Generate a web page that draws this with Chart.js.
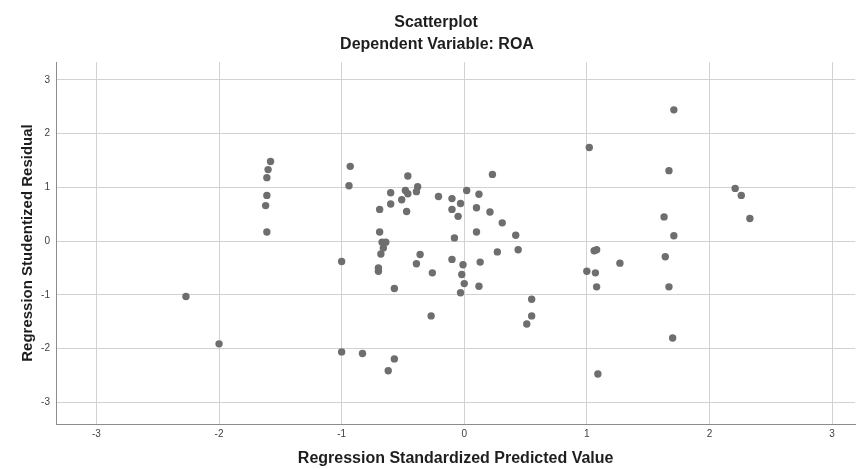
<!DOCTYPE html>
<html>
<head>
<meta charset="utf-8">
<script src="https://cdn.jsdelivr.net/npm/chart.js@4.4.1/dist/chart.umd.min.js"></script>
<style>
    html, body { margin: 0; padding: 0; background: #fff; }
    #wrap { width: 859px; height: 469px; }
</style>
</head>
<body>
<div id="wrap"><canvas id="residual-scatter"></canvas></div>
<script>
var chartTitle = "Scatterplot";
var chartSubtitle = "Dependent Variable: ROA";
var xAxisTitle = "Regression Standardized Predicted Value";
var yAxisTitle = "Regression Studentized Residual";
var tickValues = [-3, -2, -1, 0, 1, 2, 3];

// one entry per case
var predictedValues = [
    -1.58, -1.60, -1.61, -1.61, -1.62, -1.61, -0.93, -0.94, 1.02, -0.46,
    -0.38, -0.39, -0.48, -0.46, -0.60, -0.51, -0.60, -0.69, -0.47, -0.21,
    -0.10, -0.03, -0.10, -0.05, 0.02, 0.12, 0.23, 0.10, 0.21, 0.31,
    0.42, -0.69, 0.10, -0.08, 1.71, 1.67, 2.21, 2.26, 1.63, 2.33,
    1.71, -1.00, -2.27, -2.00, -1.00, -0.67, -0.64, -0.66, -0.68, -0.36,
    -0.39, -0.10, -0.01, 0.13, 0.27, 0.44, -0.70, -0.70, -0.26, -0.02,
    0.00, 0.12, -0.03, -0.57, 0.55, 0.55, 0.51, -0.27, -0.83, -0.57,
    -0.62, 1.00, 1.07, 1.06, 1.08, 1.08, 1.09, 1.27, 1.64, 1.67,
    1.70
];
var studentizedResiduals = [
    1.48, 1.33, 1.18, 0.85, 0.66, 0.17, 1.39, 1.03, 1.74, 1.21,
    1.01, 0.92, 0.94, 0.88, 0.90, 0.77, 0.69, 0.59, 0.55, 0.83,
    0.79, 0.70, 0.59, 0.46, 0.94, 0.87, 1.24, 0.62, 0.54, 0.34,
    0.11, 0.17, 0.17, 0.06, 2.44, 1.31, 0.98, 0.85, 0.45, 0.42,
    0.10, -0.38, -1.03, -1.91, -2.06, -0.02, -0.02, -0.13, -0.24, -0.25,
    -0.42, -0.34, -0.44, -0.39, -0.20, -0.16, -0.50, -0.56, -0.59, -0.62,
    -0.79, -0.84, -0.96, -0.88, -1.08, -1.39, -1.54, -1.39, -2.09, -2.19,
    -2.41, -0.56, -0.59, -0.18, -0.16, -0.85, -2.47, -0.41, -0.29, -0.85,
    -1.80
];

var points = predictedValues.map(function(x, i) {
    return { x: x, y: studentizedResiduals[i] };
});

var setTicks = function(axis) {
    axis.ticks = tickValues.map(function(v) { return { value: v }; });
};

// titles are centred a bit left of the plot in the original, so draw them by hand
var headerPlugin = {
    id: "header",
    afterDraw: function(chart) {
        var ctx = chart.ctx;
        ctx.save();
        ctx.fillStyle = "#1e1e1e";
        ctx.textAlign = "center";
        ctx.textBaseline = "middle";
        ctx.font = "bold 16px 'Liberation Sans', Arial, sans-serif";
        ctx.fillText(chartTitle, 436, 23);
        ctx.fillText(chartSubtitle, 437, 45);
        ctx.restore();
    }
};

var context = document.getElementById("residual-scatter");
window.myScatter = new Chart(context, {
    type: "scatter",
    data: {
        datasets: [
            {
                label: "Residuals",
                data: points,
                backgroundColor: "#6e6e6e",
                borderColor: "#6e6e6e",
                borderWidth: 0,
                pointRadius: 3.7,
                pointHoverRadius: 3.7
            }
        ]
    },
    options: {
        responsive: true,
        maintainAspectRatio: false,
        animation: false,
        layout: { padding: { top: 62, right: 0, left: 0, bottom: 0 } },
        plugins: {
            legend: { display: false },
            tooltip: { enabled: false }
        },
        scales: {
            x: {
                type: "linear",
                min: -3.33,
                max: 3.19,
                afterBuildTicks: setTicks,
                afterFit: function(scale) { scale.height = 45; },
                grid: { color: "#d2d2d2", lineWidth: 1, drawTicks: false },
                border: { color: "#8c8c8c", width: 1 },
                ticks: {
                    padding: 4,
                    color: "#404040",
                    font: { family: "'Liberation Sans', Arial, sans-serif", size: 10 }
                },
                title: {
                    display: true,
                    text: xAxisTitle,
                    color: "#1e1e1e",
                    padding: { top: 0, bottom: 1 },
                    font: { family: "'Liberation Sans', Arial, sans-serif", size: 16, weight: "bold" }
                }
            },
            y: {
                type: "linear",
                min: -3.40,
                max: 3.33,
                afterBuildTicks: setTicks,
                afterFit: function(scale) { scale.width = 56; },
                grid: { color: "#d2d2d2", lineWidth: 1, drawTicks: false },
                border: { color: "#8c8c8c", width: 1 },
                ticks: {
                    padding: 6,
                    color: "#404040",
                    font: { family: "'Liberation Sans', Arial, sans-serif", size: 10 }
                },
                title: {
                    display: true,
                    text: yAxisTitle,
                    color: "#1e1e1e",
                    padding: { top: 19, bottom: 0 },
                    font: { family: "'Liberation Sans', Arial, sans-serif", size: 15, weight: "bold" }
                }
            }
        }
    },
    plugins: [headerPlugin]
});
</script>
</body>
</html>
